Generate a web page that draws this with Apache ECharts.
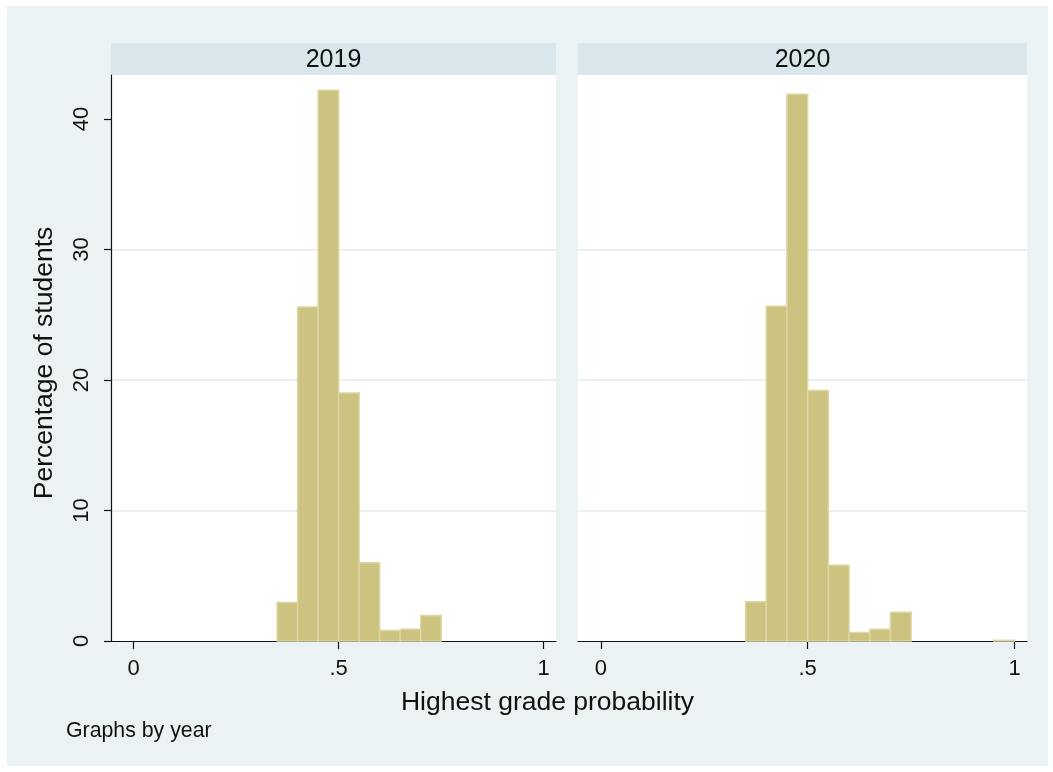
<!DOCTYPE html>
<html>
<head>
<meta charset="utf-8">
<script src="https://cdn.jsdelivr.net/npm/echarts@6/dist/echarts.min.js"></script>
<style>
  html, body { margin: 0; padding: 0; background: #ffffff; }
  #wrap { position: relative; width: 1053px; height: 772px; background: #ffffff; }
  #chart { position: absolute; left: 7px; top: 6px; width: 1041px; height: 760px; }
</style>
</head>
<body>
<div id="wrap"><div id="chart"></div></div>
<script>
// ---- data ----
const panelYears = ['2019', '2020'];
const binWidth = 0.05;
const binStarts2019 = [0.35, 0.40, 0.45, 0.50, 0.55, 0.60, 0.65, 0.70];
const pct2019 = [2.95, 25.6, 42.2, 19.0, 6.0, 0.8, 0.9, 1.95];
const binStarts2020 = [0.35, 0.40, 0.45, 0.50, 0.55, 0.60, 0.65, 0.70, 0.95];
const pct2020 = [3.0, 25.65, 41.9, 19.2, 5.8, 0.65, 0.9, 2.2, 0.05];
const xTickValues = [0, 0.5, 1];
const xTickLabels = ['0', '.5', '1'];
const yTickValues = [0, 10, 20, 30, 40];
const xAxisTitle = 'Highest grade probability';
const yAxisTitle = 'Percentage of students';
const noteText = 'Graphs by year';

// ---- style ----
const FONT = "'Liberation Sans', Arial, sans-serif";
const BAR_FILL = '#cbc37f';
const BAR_EDGE = '#dcd6a3';
const GRID_LINE = '#e3ebee';
const STRIP = '#d9e6eb';
const BG = '#eaf2f3';

function toBins(starts, vals) {
  return starts.map((s, i) => [s, s + binWidth, vals[i]]);
}

function renderBar(params, api) {
  const x0 = api.value(0), x1 = api.value(1), v = api.value(2);
  const pTop = api.coord([x0, v]);
  const pBot = api.coord([x1, 0]);
  return {
    type: 'rect',
    shape: { x: pTop[0], y: pTop[1], width: pBot[0] - pTop[0], height: pBot[1] - pTop[1] },
    style: { fill: BAR_FILL, stroke: BAR_EDGE, lineWidth: 1.5 }
  };
}

const grids = [
  { left: 104, top: 69, width: 445, height: 566 },
  { left: 571, top: 69, width: 449, height: 566 }
];

const xMin = -0.055, xMax = 1.03, yMax = 43.37;

function makeX(i) {
  return {
    type: 'value', gridIndex: i, min: xMin, max: xMax,
    axisLine: { show: true, onZero: false, lineStyle: { color: '#111', width: 1.2 } },
    axisTick: { show: true, customValues: xTickValues, length: 8, lineStyle: { color: '#111', width: 1.2 } },
    axisLabel: {
      show: true, customValues: xTickValues, margin: 17,
      formatter: v => xTickLabels[xTickValues.indexOf(v)] ?? '',
      color: '#111', fontFamily: FONT, fontSize: 22
    },
    splitLine: { show: false }
  };
}

function makeY(i) {
  const first = i === 0;
  return {
    type: 'value', gridIndex: i, min: 0, max: yMax, interval: 10,
    axisLine: { show: first, onZero: false, lineStyle: { color: '#111', width: 1.2 } },
    axisTick: { show: first, customValues: yTickValues, length: 7, lineStyle: { color: '#111', width: 1.2 } },
    axisLabel: {
      show: first, customValues: yTickValues, rotate: 90, margin: 18,
      color: '#111', fontFamily: FONT, fontSize: 22
    },
    splitLine: { show: true, showMinLine: false, showMaxLine: false, lineStyle: { color: GRID_LINE, width: 1.5 } }
  };
}

const chart = echarts.init(document.getElementById('chart'), null, { renderer: 'canvas' });

const graphics = [];
grids.forEach((g, i) => {
  graphics.push({
    type: 'rect', shape: { x: g.left, y: 37, width: g.width, height: 32 },
    style: { fill: STRIP }, z: 0
  });
  graphics.push({
    type: 'text', x: g.left + g.width / 2, y: 54,
    style: { text: panelYears[i], fill: '#111', font: '25px ' + FONT, textAlign: 'center', textVerticalAlign: 'middle' }
  });
});
graphics.push({
  type: 'text', x: 540.5, y: 697,
  style: { text: xAxisTitle, fill: '#111', font: '26.5px ' + FONT, textAlign: 'center', textVerticalAlign: 'middle' }
});
graphics.push({
  type: 'text', x: 38, y: 357, rotation: Math.PI / 2,
  style: { text: yAxisTitle, fill: '#111', font: '26.5px ' + FONT, textAlign: 'center', textVerticalAlign: 'middle' }
});
graphics.push({
  type: 'text', x: 59, y: 725,
  style: { text: noteText, fill: '#111', font: '21.3px ' + FONT, textAlign: 'left', textVerticalAlign: 'middle' }
});

chart.setOption({
  backgroundColor: BG,
  animation: false,
  grid: grids.map(g => Object.assign({ show: true, backgroundColor: '#ffffff', borderWidth: 0, containLabel: false }, g)),
  xAxis: [makeX(0), makeX(1)],
  yAxis: [makeY(0), makeY(1)],
  graphic: graphics,
  series: [
    { type: 'custom', name: panelYears[0], xAxisIndex: 0, yAxisIndex: 0, renderItem: renderBar,
      encode: { x: [0, 1], y: 2 }, data: toBins(binStarts2019, pct2019) },
    { type: 'custom', name: panelYears[1], xAxisIndex: 1, yAxisIndex: 1, renderItem: renderBar,
      encode: { x: [0, 1], y: 2 }, data: toBins(binStarts2020, pct2020) }
  ]
});
</script>
</body>
</html>
